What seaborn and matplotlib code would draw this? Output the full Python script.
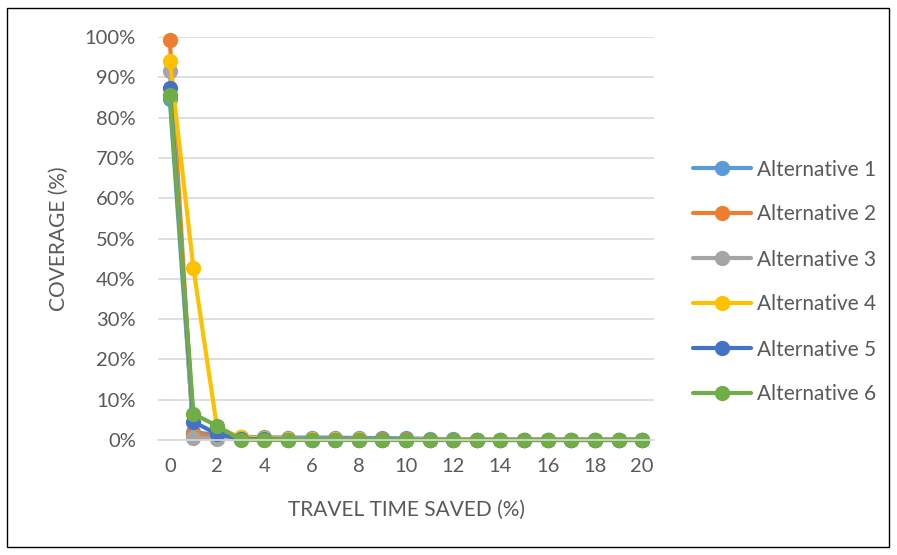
import matplotlib
matplotlib.use("Agg")
import matplotlib.pyplot as plt
import matplotlib.patches as mpatches
from matplotlib.ticker import FuncFormatter, MultipleLocator
import seaborn as sns
import pandas as pd

# Travel time saved (%) on the category axis
travel_time_saved = list(range(21))

# Coverage (%) for each alternative
alt1 = [84.5, 2.0, 1.2, 0.8, 0.7, 0.6, 0.6, 0.6, 0.5, 0.5, 0.4, 0.3, 0.2, 0.1, 0.1, 0.1, 0.1, 0.1, 0.1, 0.1, 0.1]
alt2 = [99.2, 1.5, 0.8, 0.5, 0.3, 0.2, 0.2, 0.2, 0.2, 0.2, 0.2, 0.1, 0.1, 0.1, 0.1, 0.1, 0.1, 0.1, 0.1, 0.1, 0.1]
alt3 = [91.5, 0.5, 0.3, 0.2, 0.1, 0.1, 0.1, 0.1, 0.1, 0.1, 0.1, 0.1, 0.0, 0.0, 0.0, 0.0, 0.0, 0.0, 0.0, 0.0, 0.0]
alt4 = [94.0, 42.6, 3.0, 0.7, 0.5, 0.3, 0.2, 0.2, 0.2, 0.1, 0.1, 0.1, 0.1, 0.1, 0.0, 0.0, 0.0, 0.0, 0.0, 0.0, 0.0]
alt5 = [87.3, 4.5, 1.5, 0.3, 0.2, 0.1, 0.1, 0.1, 0.1, 0.1, 0.1, 0.0, 0.0, 0.0, 0.0, 0.0, 0.0, 0.0, 0.0, 0.0, 0.0]
alt6 = [85.5, 6.5, 3.5, 0.1, 0.0, 0.0, 0.0, 0.0, 0.0, 0.0, 0.0, 0.0, 0.0, 0.0, 0.0, 0.0, 0.0, 0.0, 0.0, 0.0, 0.0]

series_names = ["Alternative 1", "Alternative 2", "Alternative 3",
                "Alternative 4", "Alternative 5", "Alternative 6"]
series_values = [alt1, alt2, alt3, alt4, alt5, alt6]
colors = ["#5B9BD5", "#ED7D31", "#A5A5A5", "#FFC000", "#4472C4", "#70AD47"]

rows = []
for name, vals in zip(series_names, series_values):
    for x, v in zip(travel_time_saved, vals):
        rows.append({"x": x, "coverage": v, "series": name})
df = pd.DataFrame(rows)

sns.set_theme(style="white")
plt.rcParams["font.family"] = ["Lato", "DejaVu Sans"]
text_color = "#595959"

W, H = 897, 555
fig = plt.figure(figsize=(W / 100, H / 100), dpi=100)
left, right, top, bottom = 158, 654, 37, 440
ax = fig.add_axes([left / W, 1 - bottom / H, (right - left) / W, (bottom - top) / H])

sns.lineplot(data=df, x="x", y="coverage", hue="series", hue_order=series_names,
             palette=colors, marker="o", markersize=11, markeredgewidth=0,
             linewidth=3.0, ax=ax, legend=True, clip_on=False)

ax.set_xlim(-0.5, 20.5)
ax.set_ylim(0, 100)
ax.xaxis.set_major_locator(MultipleLocator(2))
ax.yaxis.set_major_locator(MultipleLocator(10))
ax.yaxis.set_major_formatter(FuncFormatter(lambda v, p: f"{int(round(v))}%"))
ax.grid(axis="y", color="#D9D9D9", linewidth=1.2)
ax.set_axisbelow(True)
for side in ["top", "right", "left"]:
    ax.spines[side].set_visible(False)
ax.spines["bottom"].set_color("#D9D9D9")
ax.spines["bottom"].set_linewidth(1.2)
ax.tick_params(axis="both", length=0, labelsize=14.5, colors=text_color)
ax.tick_params(axis="x", pad=13)
ax.tick_params(axis="y", pad=16)

ax.set_xlabel("TRAVEL TIME SAVED (%)", fontsize=15, color=text_color, labelpad=18)
ax.set_ylabel("COVERAGE (%)", fontsize=15, color=text_color, labelpad=11)

handles, labels = ax.get_legend_handles_labels()
ax.legend(handles, labels, loc="center left", bbox_to_anchor=(693 / W, 1 - 282 / H),
          bbox_transform=fig.transFigure, frameon=False, fontsize=15,
          labelcolor=text_color, handlelength=2.8, handletextpad=0.25,
          labelspacing=1.2, borderpad=0, borderaxespad=0)

# Thin frame around the whole chart
fig.patches.append(mpatches.Rectangle((7 / W, 8 / H), 882 / W, 539 / H,
                                      transform=fig.transFigure, fill=False,
                                      edgecolor="black", linewidth=1.0))

fig.savefig("out.png", dpi=100)
